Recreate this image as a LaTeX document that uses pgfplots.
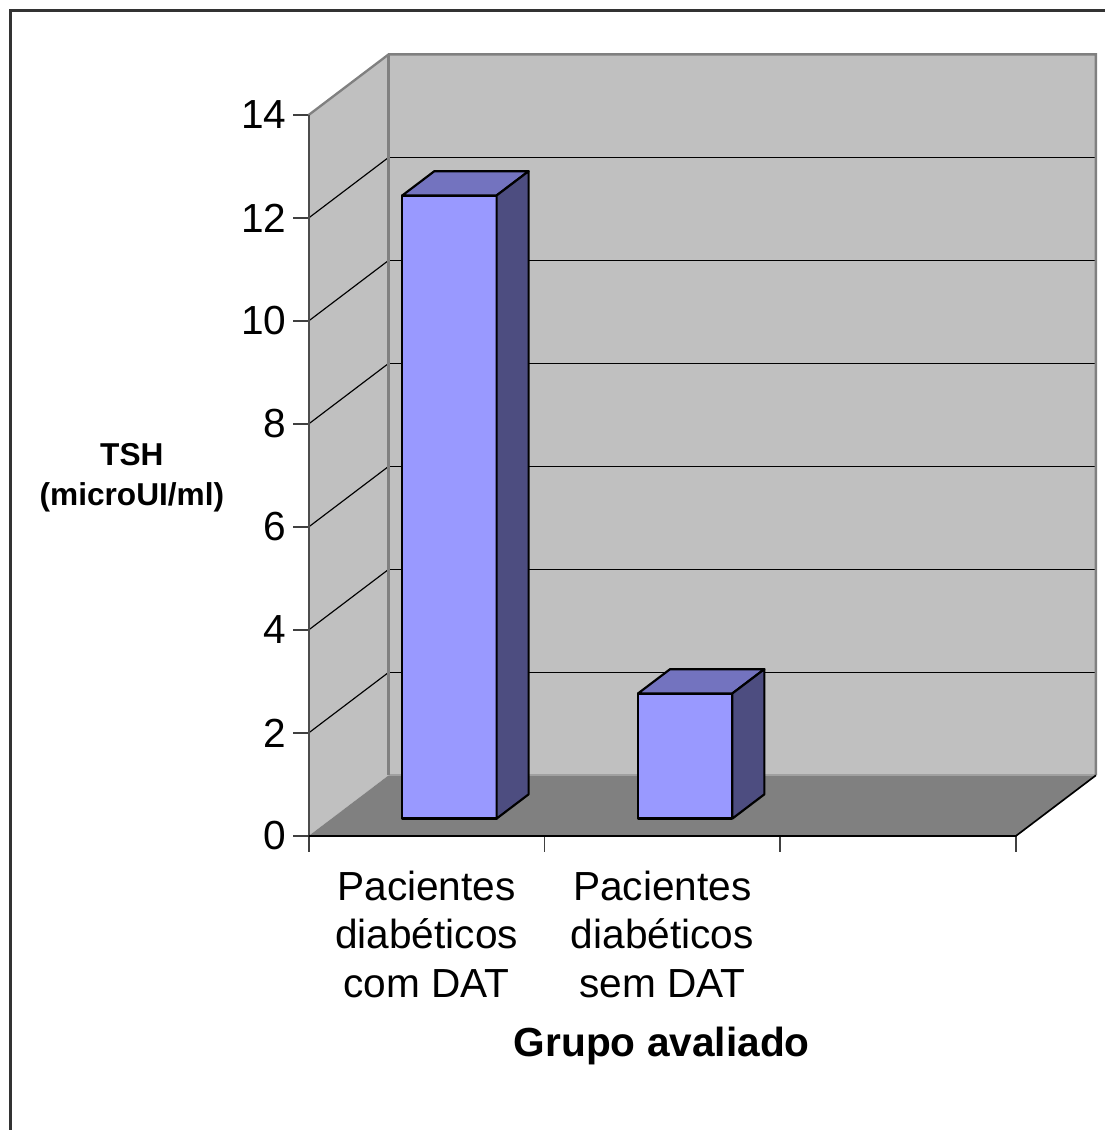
\documentclass[border=0pt]{standalone}
\usepackage{pgfplots}
\pgfplotsset{compat=1.18}
\usepackage{fontspec}
\setmainfont{Liberation Sans}
\definecolor{wall}{HTML}{C0C0C0}
\definecolor{floorc}{HTML}{808080}
\definecolor{barfront}{HTML}{9999FF}
\definecolor{bartop}{HTML}{7373BF}
\definecolor{barside}{HTML}{4D4D80}
\definecolor{edge}{HTML}{808080}
\definecolor{seam}{HTML}{A0A0A0}
\begin{document}
\begin{tikzpicture}
\begin{axis}[
  x=70.8pt, y=15.465pt,
  xmin=0, xmax=3.339, ymin=0, ymax=15.176,
  clip=false,
  axis x line*=bottom, axis y line*=left,
  axis line style={draw=none},
  tick align=outside,
  major tick length=4.7pt,
  tick style={black!75, line width=0.5pt},
  ytick={0,2,...,14},
  xtick={0,1,2,3},
  xticklabels={},
  extra x ticks={0.5,1.5},
  extra x tick labels={{Pacientes\\diabéticos\\com DAT},{Pacientes\\diabéticos\\sem DAT}},
  extra x tick style={major tick length=0pt},
  xticklabel style={align=center, font=\fontsize{12.2}{14.55}\selectfont, yshift=-6.9pt},
  yticklabel style={font=\fontsize{12.2}{14.6}\selectfont, inner sep=1.8pt},
  /pgf/number format/assume math mode=true,
  xlabel={Grupo avaliado},
  ylabel={TSH\\(microUI/ml)},
  every axis x label/.style={at={(axis description cs:0.4486,-0.2819)}, anchor=base, font=\bfseries\fontsize{12.2}{14}\selectfont},
  every axis y label/.style={at={(axis description cs:-0.2246,0.4586)}, anchor=center, align=center, font=\bfseries\fontsize{9.5}{12}\selectfont},
]
% picture frame (bounding box) and outer border
\path (axis cs:-1.3093,-5.7071) rectangle (axis cs:3.3771,16.2328);
\draw[black!80, line width=0.7pt] (axis cs:-1.2648,-5.7071) -- (axis cs:-1.2648,16.029) -- (axis cs:3.3771,16.029);

% walls
\addplot[fill=wall, draw=none, forget plot] coordinates {(0,0) (0.339,1.176) (0.339,15.176) (0,14)} --cycle;
\addplot[fill=wall, draw=none, forget plot] coordinates {(0.339,1.176) (3.339,1.176) (3.339,15.176) (0.339,15.176)} --cycle;
% floor
\addplot[fill=floorc, draw=none, forget plot] coordinates {(0,0) (3,0) (3.339,1.176) (0.339,1.176)} --cycle;

% gridlines on back wall
\addplot[black, line width=0.35pt, forget plot] coordinates {(0.339,3.176) (3.339,3.176)};
\addplot[black, line width=0.35pt, forget plot] coordinates {(0.339,5.176) (3.339,5.176)};
\addplot[black, line width=0.35pt, forget plot] coordinates {(0.339,7.176) (3.339,7.176)};
\addplot[black, line width=0.35pt, forget plot] coordinates {(0.339,9.176) (3.339,9.176)};
\addplot[black, line width=0.35pt, forget plot] coordinates {(0.339,11.176) (3.339,11.176)};
\addplot[black, line width=0.35pt, forget plot] coordinates {(0.339,13.176) (3.339,13.176)};
% gridlines on side wall
\addplot[black, line width=0.35pt, forget plot] coordinates {(0,2) (0.339,3.176)};
\addplot[black, line width=0.35pt, forget plot] coordinates {(0,4) (0.339,5.176)};
\addplot[black, line width=0.35pt, forget plot] coordinates {(0,6) (0.339,7.176)};
\addplot[black, line width=0.35pt, forget plot] coordinates {(0,8) (0.339,9.176)};
\addplot[black, line width=0.35pt, forget plot] coordinates {(0,10) (0.339,11.176)};
\addplot[black, line width=0.35pt, forget plot] coordinates {(0,12) (0.339,13.176)};

% wall edges
\addplot[seam, line width=0.6pt, forget plot] coordinates {(0.339,1.176) (3.339,1.176)};
\addplot[edge, line width=0.7pt, forget plot] coordinates {(0.339,1.176) (0.339,15.176)};
\addplot[edge, line width=0.7pt, forget plot] coordinates {(0,14) (0.339,15.176) (3.339,15.176) (3.339,1.176)};
\addplot[black!70, line width=0.5pt, forget plot] coordinates {(0,0) (0,14)};
% floor edges
\addplot[black, line width=0.5pt, forget plot] coordinates {(0,0) (3,0) (3.339,1.176)};

% bar 1: Pacientes diabéticos com DAT, TSH = 12.1
\addplot[fill=barfront, draw=black, line width=0.65pt, line join=round, forget plot] coordinates {(0.3973,0.3375) (0.7973,0.3375) (0.7973,12.4375) (0.3973,12.4375)} --cycle;
\addplot[fill=bartop, draw=black, line width=0.65pt, line join=round, forget plot] coordinates {(0.3973,12.4375) (0.7973,12.4375) (0.9329,12.9079) (0.5329,12.9079)} --cycle;
\addplot[fill=barside, draw=black, line width=0.65pt, line join=round, forget plot] coordinates {(0.7973,0.3375) (0.9329,0.8079) (0.9329,12.9079) (0.7973,12.4375)} --cycle;
% bar 2: Pacientes diabéticos sem DAT, TSH = 2.43
\addplot[fill=barfront, draw=black, line width=0.65pt, line join=round, forget plot] coordinates {(1.3973,0.3375) (1.7973,0.3375) (1.7973,2.7675) (1.3973,2.7675)} --cycle;
\addplot[fill=bartop, draw=black, line width=0.65pt, line join=round, forget plot] coordinates {(1.3973,2.7675) (1.7973,2.7675) (1.9329,3.2379) (1.5329,3.2379)} --cycle;
\addplot[fill=barside, draw=black, line width=0.65pt, line join=round, forget plot] coordinates {(1.7973,0.3375) (1.9329,0.8079) (1.9329,3.2379) (1.7973,2.7675)} --cycle;
\end{axis}
\end{tikzpicture}
\end{document}
